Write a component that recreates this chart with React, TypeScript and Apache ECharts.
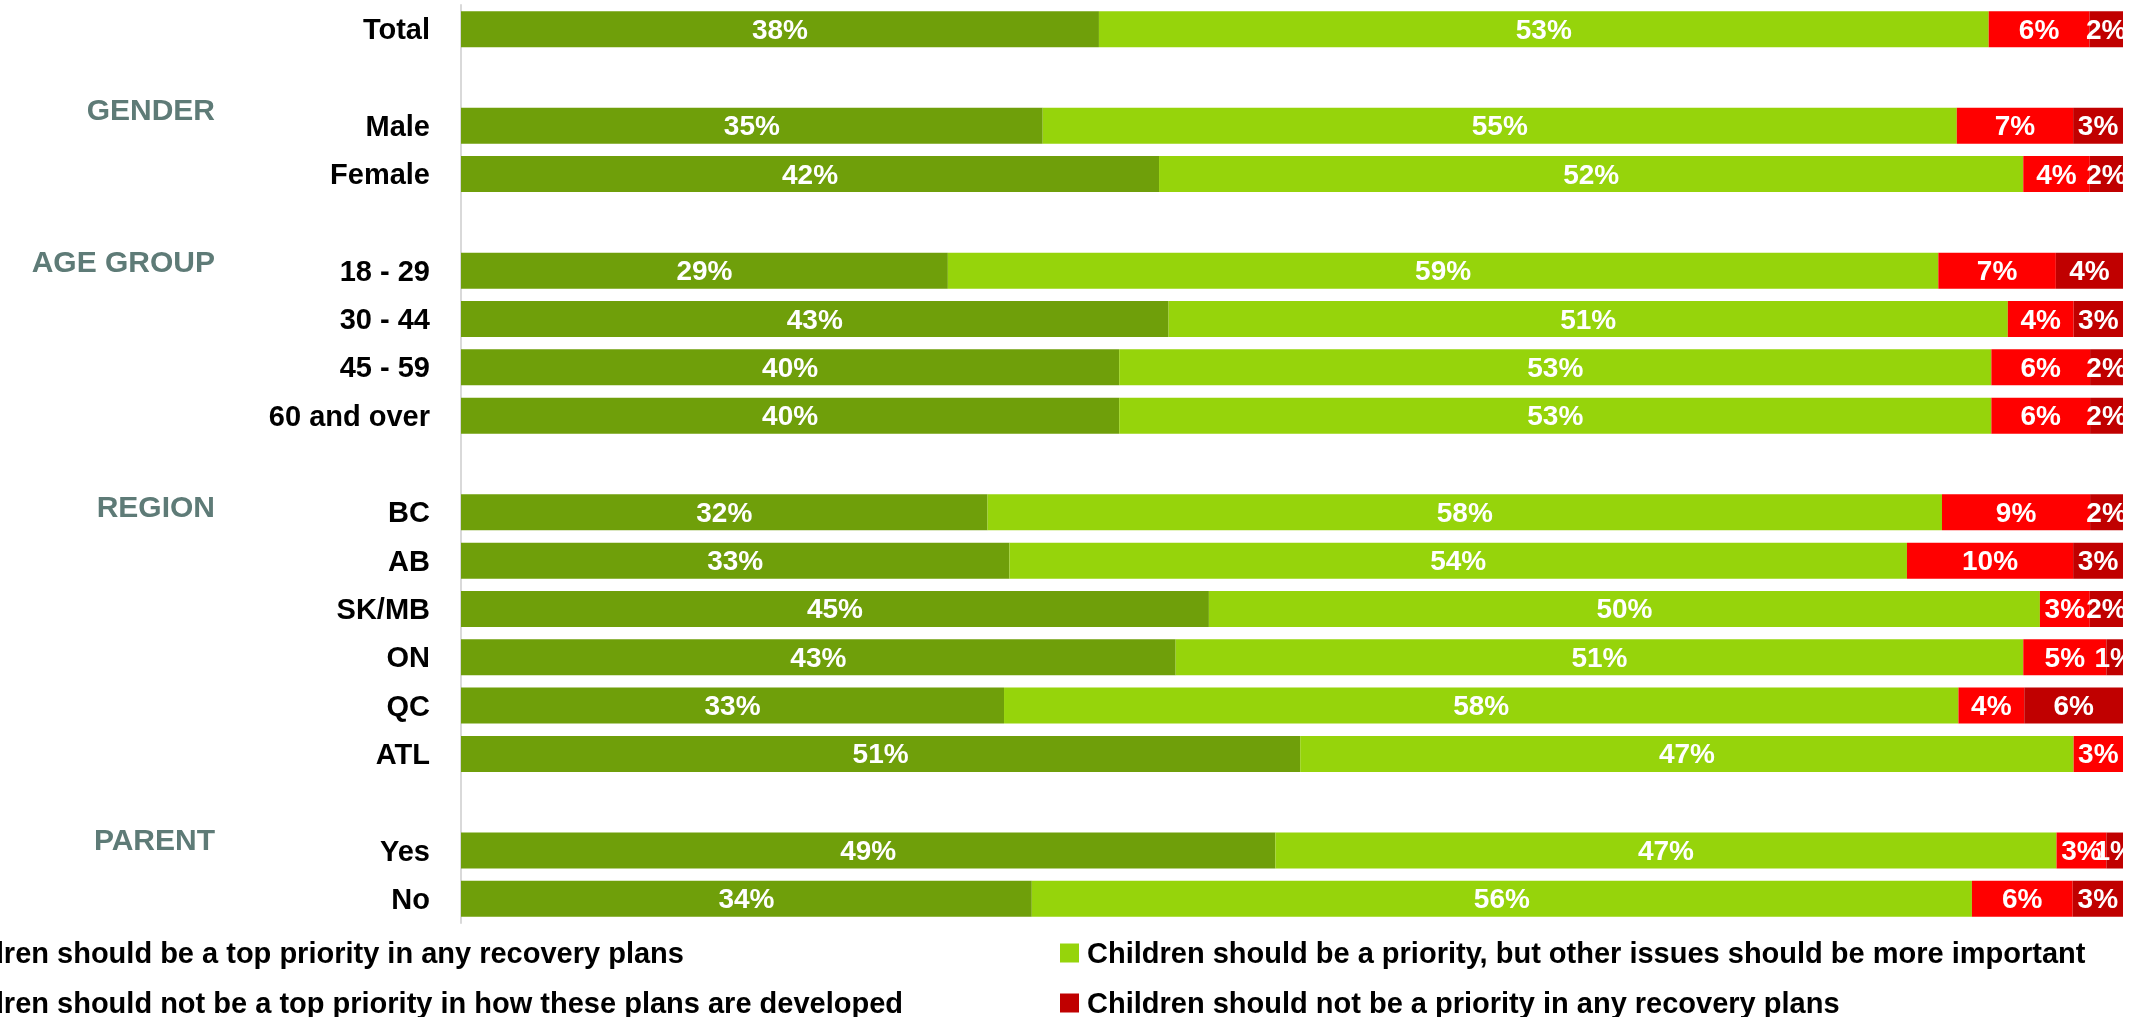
import React, { useEffect, useRef } from 'react';
import * as echarts from 'echarts';

const seriesNames = [
  'Children should be a top priority in any recovery plans',
  'Children should be a priority, but other issues should be more important',
  'Children should not be a top priority in how these plans are developed',
  'Children should not be a priority in any recovery plans',
];
const seriesColors = ['#6f9f0a', '#96d40b', '#ff0000', '#c00000'];

const groupHeadings = ['', 'GENDER', 'AGE GROUP', 'REGION', 'PARENT'];
const groupRows = [
  ['Total'],
  ['Male', 'Female'],
  ['18 - 29', '30 - 44', '45 - 59', '60 and over'],
  ['BC', 'AB', 'SK/MB', 'ON', 'QC', 'ATL'],
  ['Yes', 'No'],
];
const rows = ['Total', 'Male', 'Female', '18 - 29', '30 - 44', '45 - 59', '60 and over', 'BC', 'AB', 'SK/MB', 'ON', 'QC', 'ATL', 'Yes', 'No'];
const topPriority = [38, 35, 42, 29, 43, 40, 40, 32, 33, 45, 43, 33, 51, 49, 34];
const priorityOtherMore = [53, 55, 52, 59, 51, 53, 53, 58, 54, 50, 51, 58, 47, 47, 56];
const notTopPriority = [6, 7, 4, 7, 4, 6, 6, 9, 10, 3, 5, 4, 3, 3, 6];
const notPriority = [2, 3, 2, 4, 3, 2, 2, 2, 3, 2, 1, 6, 0, 1, 3];

const FONT = '"Liberation Sans", Arial, sans-serif';

export default function App() {
  const ref = useRef<HTMLDivElement>(null);
  useEffect(() => {
    document.body.style.margin = '0';
    if (!ref.current) return;
    const chart = echarts.init(ref.current, null, { renderer: 'svg' });

    const values = [topPriority, priorityOtherMore, notTopPriority, notPriority];
    const categories: string[] = [];
    const headingOf: Record<string, string> = {};
    groupRows.forEach((g, gi) => {
      if (gi > 0) categories.push(' '.repeat(gi));
      g.forEach((r, ri) => {
        categories.push(r);
        if (ri === 0 && groupHeadings[gi]) headingOf[r] = groupHeadings[gi];
      });
    });
    const sums = rows.map((_, i) => values.reduce((s, arr) => s + arr[i], 0));
    const headingStyle: Record<string, string> = {
      GENDER: 'h0',
      'AGE GROUP': 'h1',
      REGION: 'h2',
      PARENT: 'h3',
    };
    const baseHeading = { fontSize: 30, fontWeight: 'bold', color: '#5e7b77', fontFamily: FONT };

    const series = values.map((arr, si) => ({
      name: seriesNames[si],
      type: 'bar',
      stack: 'all',
      barWidth: 36,
      itemStyle: { color: seriesColors[si] },
      label: {
        show: true,
        position: 'inside',
        color: '#ffffff',
        fontSize: 28,
        fontWeight: 'bold',
        fontFamily: FONT,
        formatter: (p: any) => {
          const i = rows.indexOf(p.name);
          if (i < 0) return '';
          const raw = arr[i];
          return raw ? raw + '%' : '';
        },
      },
      data: categories.map((c) => {
        const i = rows.indexOf(c);
        if (i < 0) return '-';
        return (arr[i] / sums[i]) * 100;
      }),
    }));

    const legendText = { fontSize: 29, fontWeight: 'bold', color: '#000', fontFamily: FONT, lineHeight: 30, padding: [0, 0, 0, 3] };

    chart.setOption({
      animation: false,
      grid: { left: 461, right: 23, top: 5, height: 918, containLabel: false },
      xAxis: { type: 'value', min: 0, max: 100, show: false },
      yAxis: [
        {
          type: 'category',
          data: categories,
          inverse: true,
          axisLine: { show: true, lineStyle: { color: '#d9d9d9', width: 2 } },
          axisTick: { show: false },
          axisLabel: {
            margin: 31,
            fontSize: 29,
            fontWeight: 'bold',
            color: '#000000',
            fontFamily: FONT,
            formatter: (v: string) => v.trim(),
          },
        },
        {
          type: 'category',
          data: categories,
          inverse: true,
          position: 'left',
          offset: 246,
          axisLine: { show: false },
          axisTick: { show: false },
          axisLabel: {
            margin: 0,
            ...baseHeading,
            formatter: (v: string) => {
              const h = headingOf[v];
              return h ? `{${headingStyle[h]}|${h}}` : '';
            },
            rich: {
              h0: { ...baseHeading, padding: [0, 0, 32, 0] },
              h1: { ...baseHeading, padding: [0, 0, 18, 0] },
              h2: { ...baseHeading, padding: [0, 0, 12, 0] },
              h3: { ...baseHeading, padding: [0, 0, 22, 0] },
            },
          },
        },
      ],
      legend: [
        {
          data: [seriesNames[0], seriesNames[2]],
          orient: 'vertical',
          right: 1243,
          top: 938,
          height: 200,
          padding: 0,
          itemGap: 20,
          itemWidth: 19,
          itemHeight: 19,
          icon: 'rect',
          selectedMode: false,
          textStyle: legendText,
        },
        {
          data: [seriesNames[1], seriesNames[3]],
          orient: 'vertical',
          left: 1060,
          top: 938,
          height: 200,
          padding: 0,
          itemGap: 20,
          itemWidth: 19,
          itemHeight: 19,
          icon: 'rect',
          selectedMode: false,
          textStyle: legendText,
        },
      ],
      series,
    });
    return () => chart.dispose();
  }, []);
  return <div ref={ref} style={{ position: 'fixed', left: 0, top: 0, width: '2146px', height: '1017px' }} />;
}
